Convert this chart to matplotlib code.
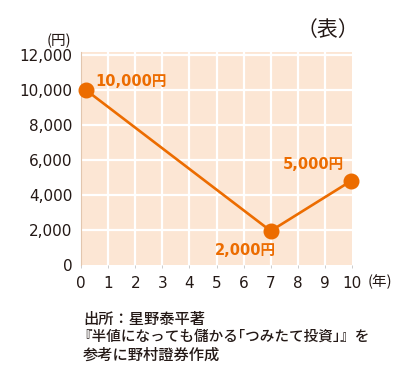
import matplotlib
matplotlib.use('Agg')
import matplotlib.pyplot as plt
import numpy as np

plt.rcParams['font.family'] = ['DejaVu Sans', 'Noto Sans CJK JP']
CJK = ['Noto Sans CJK JP', 'DejaVu Sans']

# データ
years = [0.2, 7, 9.95]
values = [10000, 1950, 4800]
point_labels = ['10,000円', '2,000円', '5,000円']
label_offsets = [(6.5, 6.5), (-18, -14), (-26.5, 12)]   # offset points
label_ha = ['left', 'center', 'center']

xticks = list(range(0, 11))
yticks = [0, 2000, 4000, 6000, 8000, 10000, 12000]
ytick_labels = ['{:,}'.format(v) for v in yticks]

ORANGE = '#ec6c00'
BG = '#fce6d4'
TXT = '#231815'

fig = plt.figure(figsize=(4.0, 3.86), dpi=100)
ax = fig.add_axes([81/400, 1-265/386, (352-81)/400, (265-52)/386])
ax.set_facecolor(BG)

ax.set_xlim(0, 10)
ax.set_ylim(0, 12200)

# grille blanche
for x in xticks[1:-1]:
    ax.axvline(x, color='white', lw=1.6, zorder=1)
for y in yticks[1:]:
    ax.axhline(y, color='white', lw=1.6, zorder=1)

ax.plot(years, values, color=ORANGE, lw=1.9, zorder=3)
ax.plot(years, values, 'o', color=ORANGE, ms=10.5, zorder=4, clip_on=False)

for xv, yv, lab, off, ha in zip(years, values, point_labels, label_offsets, label_ha):
    ax.annotate(lab, (xv, yv), xytext=off, textcoords='offset points',
                ha=ha, va='center', color=ORANGE, fontsize=10.5, fontweight='bold')

ax.set_xticks(xticks)
ax.set_xticklabels([str(x) for x in xticks])
ax.set_yticks(yticks)
ax.set_yticklabels(ytick_labels)
ax.tick_params(axis='y', length=0, pad=6, labelsize=11, labelcolor=TXT)
ax.tick_params(axis='x', length=2, width=0.7, color='#cccccc', pad=6, labelsize=11, labelcolor=TXT)

for s in ['top', 'right', 'bottom']:
    ax.spines[s].set_visible(False)
ax.spines['left'].set_color('#e2c6ae')
ax.spines['left'].set_linewidth(0.8)

fig.text(59/400, 1-41/386, '(円)', ha='center', va='center', fontsize=10.5, color=TXT, family=CJK)
fig.text(380/400, 1-282/386, '(年)', ha='center', va='center', fontsize=10.5, color=TXT, family=CJK)
fig.text(328/400, 1-30/386, '（表）', ha='center', va='center', fontsize=15, color=TXT, family=CJK)

src = ['出所：星野泰平著', '『半値になっても儲かる｢つみたて投資｣』を', '参考に野村證券作成']
src_x = [83, 77, 83]
src_size = [11, 10.5, 11]
for i, line in enumerate(src):
    fig.text(src_x[i]/400, 1-(319+18*i)/386, line, ha='left', va='center', fontsize=src_size[i],
             color=TXT, family=CJK, fontweight='medium')

fig.savefig('out.png', dpi=100)
